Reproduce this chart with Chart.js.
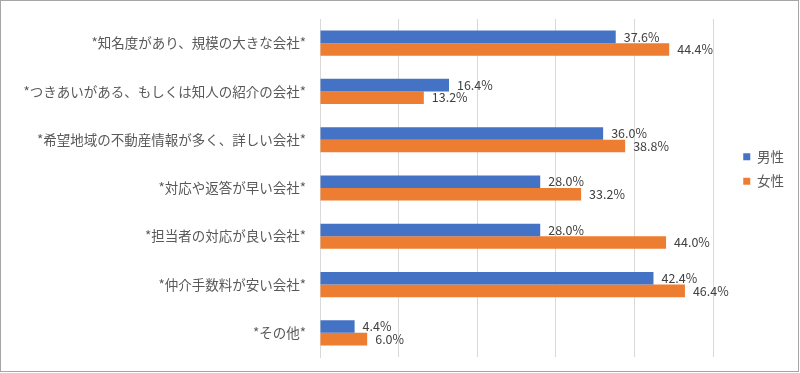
<!DOCTYPE html>
<html>
<head>
<meta charset="utf-8">
<script src="https://cdn.jsdelivr.net/npm/chart.js@4"></script>
<style>
  html, body { margin: 0; padding: 0; background: #fff; }
  #wrap { width: 800px; height: 373px; }
</style>
</head>
<body>
<div id="wrap"><canvas id="grafico" width="800" height="373"></canvas></div>
<script>
// datos
let categorias = [
    "*知名度があり、規模の大きな会社*",
    "*つきあいがある、もしくは知人の紹介の会社*",
    "*希望地域の不動産情報が多く、詳しい会社*",
    "*対応や返答が早い会社*",
    "*担当者の対応が良い会社*",
    "*仲介手数料が安い会社*",
    "*その他*"
];
let valoresHombre = [37.6, 16.4, 36.0, 28.0, 28.0, 42.4, 4.4];
let valoresMujer = [44.4, 13.2, 38.8, 33.2, 44.0, 46.4, 6.0];
let nombresSeries = ["男性", "女性"];

const fuente = '"Noto Sans CJK JP", "Noto Sans", sans-serif';

// marco + fondo blanco
const marco = {
    id: "marco",
    beforeDraw(chart) {
        let ctx = chart.ctx;
        ctx.save();
        ctx.fillStyle = "#fff";
        ctx.fillRect(0, 0, chart.width, chart.height);
        ctx.strokeStyle = "#a6a6a6";
        ctx.lineWidth = 1;
        ctx.strokeRect(0.5, 0.5, chart.width - 2, chart.height - 2);
        ctx.restore();
    }
};

// mover la leyenda un poco (arriba y a la derecha)
const moverLeyenda = {
    id: "moverLeyenda",
    afterLayout(chart) {
        let l = chart.legend;
        if (!l) return;
        l.left += 19; l.right += 19;
        l.top -= 19; l.bottom -= 19;
    }
};

// etiquetas de valor al final de cada barra
const etiquetas = {
    id: "etiquetas",
    afterDatasetsDraw(chart) {
        let ctx = chart.ctx;
        ctx.save();
        ctx.font = "12.5px " + fuente;
        ctx.fillStyle = "#404040";
        ctx.textAlign = "left";
        ctx.textBaseline = "middle";
        chart.data.datasets.forEach((ds, i) => {
            chart.getDatasetMeta(i).data.forEach((bar, j) => {
                ctx.fillText(ds.data[j].toFixed(1) + "%", bar.x + 8, bar.y);
            });
        });
        ctx.restore();
    }
};

new Chart(document.getElementById("grafico"), {
    type: "bar",
    data: {
        labels: categorias,
        datasets: [
            { label: nombresSeries[0], data: valoresHombre, backgroundColor: "#4472C4" },
            { label: nombresSeries[1], data: valoresMujer, backgroundColor: "#ED7D31" }
        ]
    },
    options: {
        indexAxis: "y",
        responsive: false,
        animation: false,
        layout: { padding: { top: 19, bottom: 16, left: 0, right: 25 } },
        datasets: { bar: { categoryPercentage: 0.52, barPercentage: 1 } },
        scales: {
            x: {
                min: 0, max: 50,
                afterFit(scale) { scale.height = 0; },
                ticks: { display: false, stepSize: 10 },
                grid: { color: "#d9d9d9", drawTicks: false },
                border: { display: false }
            },
            y: {
                afterFit(scale) {
                    scale.width = 320;
                    scale.paddingTop = 0;
                    scale.paddingBottom = 0;
                },
                ticks: { color: "#595959", font: { family: fuente, size: 13.5 }, padding: 14 },
                grid: { display: false, drawTicks: false },
                border: { display: true, color: "#d9d9d9" }
            }
        },
        plugins: {
            legend: {
                position: "right",
                labels: {
                    boxWidth: 7, boxHeight: 7, padding: 11,
                    color: "#595959",
                    font: { family: fuente, size: 13.5 }
                }
            },
            tooltip: { enabled: false }
        }
    },
    plugins: [marco, moverLeyenda, etiquetas]
});
</script>
</body>
</html>
